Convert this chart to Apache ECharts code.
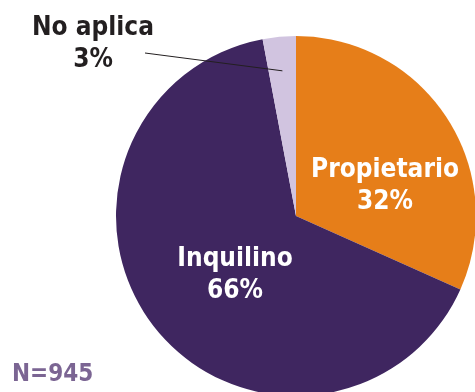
<!DOCTYPE html>
<html>
<head>
<meta charset="utf-8">
<script src="https://cdn.jsdelivr.net/npm/echarts@6/dist/echarts.min.js"></script>
<style>
  html, body { margin: 0; padding: 0; background: #ffffff; }
  #chart { width: 475px; height: 392px; }
</style>
</head>
<body>
<div id="chart"></div>
<script>
// Tenencia de la vivienda (porcentaje de respuestas)
const categories = ['Propietario', 'Inquilino', 'No aplica'];
const shares = [32, 66, 3];
const sliceColors = ['#E67E19', '#3F2660', '#D1C4E0'];
const sampleNote = 'N=945';

const FONT = '"DejaVu Sans Condensed", "Liberation Sans Narrow", Roboto, sans-serif';
const CENTER = [296, 216];
const RADIUS = 180;

const chart = echarts.init(document.getElementById('chart'), null, { renderer: 'canvas' });

const labelOffsets = [[11, 21], [12, 2], null];

const data = categories.map((name, i) => {
  const item = {
    name: name,
    value: shares[i],
    itemStyle: { color: sliceColors[i] }
  };
  if (labelOffsets[i]) {
    item.label = {
      show: true,
      position: 'inside',
      offset: labelOffsets[i],
      color: '#ffffff'
    };
  } else {
    item.label = {
      show: true,
      position: 'outside',
      color: '#231F20'
    };
  }
  item.labelLine = { show: false };
  return item;
});

// Leader line for the small slice: from the text to a point inside the slice
const total = shares.reduce((a, b) => a + b, 0);
const midFrac = (shares[0] + shares[1] + shares[2] / 2) / total;
const midAng = Math.PI / 2 - midFrac * 2 * Math.PI;
const tipR = RADIUS * 0.81;
const tip = [CENTER[0] + tipR * Math.cos(midAng), CENTER[1] - tipR * Math.sin(midAng)];

chart.setOption({
  animation: false,
  graphic: [{
    type: 'text',
    left: 12,
    top: 363,
    style: {
      text: sampleNote,
      font: 'bold 24px ' + FONT,
      fill: '#7B6593'
    }
  }, {
    type: 'line',
    z: 100,
    shape: { x1: 145, y1: 53, x2: tip[0], y2: tip[1] },
    style: { stroke: '#231F20', lineWidth: 1 }
  }],
  series: [{
    type: 'pie',
    center: CENTER,
    radius: RADIUS,
    startAngle: 90,
    clockwise: true,
    silent: true,
    label: {
      formatter: p => p.name + '\n' + p.value + '%',
      fontFamily: FONT,
      fontWeight: 'bold',
      fontSize: 26,
      lineHeight: 32,
      align: 'center'
    },
    labelLayout: function (params) {
      if (params.dataIndex !== 2) return {};
      return { x: 93, y: 44, align: 'center', verticalAlign: 'middle' };
    },
    data: data
  }]
});
</script>
</body>
</html>
